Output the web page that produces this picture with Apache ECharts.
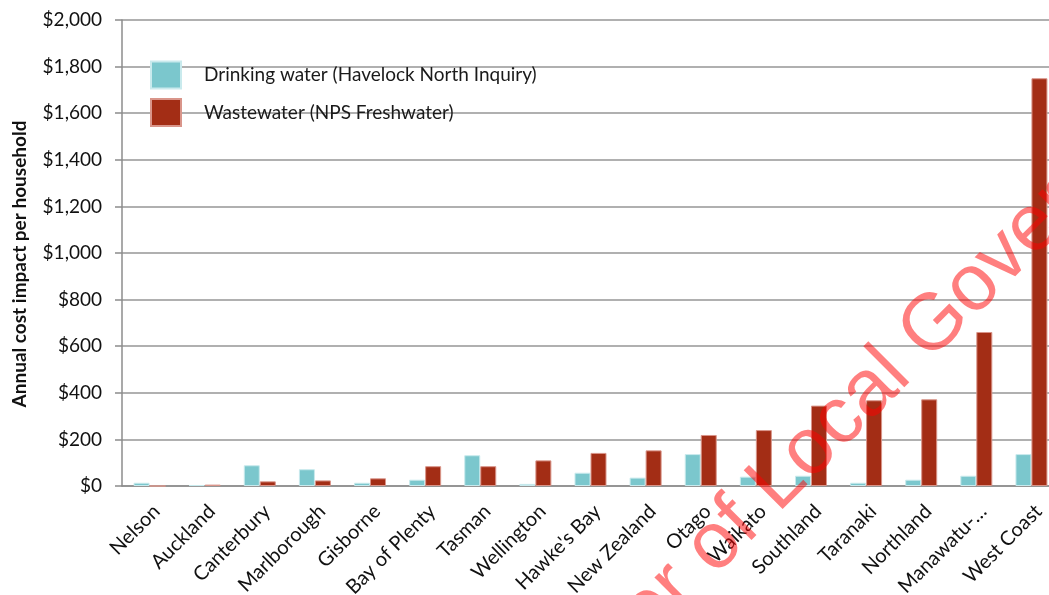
<!DOCTYPE html>
<html>
<head>
    <meta charset="utf-8">
    <script src="https://cdn.jsdelivr.net/npm/echarts@6/dist/echarts.min.js"></script>
    <style>
        html, body { margin: 0; padding: 0; background: #fff; }
        #chart { width: 1049px; height: 595px; }
    </style>
</head>
<body>
    <div id="chart"></div>
    <script>
        var regions = ['Nelson', 'Auckland', 'Canterbury', 'Marlborough', 'Gisborne', 'Bay of Plenty',
            'Tasman', 'Wellington', "Hawke's Bay", 'New Zealand', 'Otago', 'Waikato', 'Southland',
            'Taranaki', 'Northland', 'Manawatu-…', 'West Coast'];
        var drinking = [14, 4, 89, 72, 14, 27, 132, 9, 57, 36, 137, 40, 44, 14, 27, 44, 137];
        var wastewater = [0, 6, 20, 24, 33, 85, 85, 110, 142, 153, 219, 240, 345, 368, 372, 661, 1750];
        var seriesNames = ['Drinking water (Havelock North Inquiry)', 'Wastewater (NPS Freshwater)'];

        var font = 'Lato, "Liberation Sans", sans-serif';

        var chart = echarts.init(document.getElementById('chart'), null, { renderer: 'canvas' });
        var option = {
            animation: false,
            textStyle: { fontFamily: font },
            // plot runs past the right edge of the picture, as in the original crop
            grid: { left: 122, top: 20, bottom: 109, width: 937, outerBoundsMode: 'none' },
            legend: {
                orient: 'vertical',
                left: 145,
                top: 54,
                icon: 'rect',
                itemWidth: 30,
                itemHeight: 27,
                itemGap: 0,
                textStyle: { fontSize: 19, lineHeight: 23, color: '#1a1a1a', fontFamily: font },
                data: [
                    { name: seriesNames[0], textStyle: { padding: [9, 0, 0, 18] } },
                    { name: seriesNames[1], textStyle: { padding: [0, 0, 20, 18] } }
                ]
            },
            xAxis: {
                type: 'category',
                data: regions,
                axisLine: { lineStyle: { color: '#8c8c8c', width: 1.5 } },
                axisTick: { length: 7, lineStyle: { color: '#8c8c8c', width: 1.5 } },
                axisLabel: {
                    interval: 0, rotate: 45, fontSize: 20, color: '#111',
                    margin: 15, verticalAlign: 'top'
                }
            },
            yAxis: {
                type: 'value',
                min: 0,
                max: 2000,
                interval: 200,
                axisLine: { show: true, lineStyle: { color: '#8c8c8c', width: 1.5 } },
                axisTick: { show: true, length: 7, lineStyle: { color: '#8c8c8c', width: 1.5 } },
                axisLabel: {
                    fontSize: 19, color: '#111', margin: 20,
                    formatter: function (v) { return '$' + v.toLocaleString('en-US'); }
                },
                splitLine: { lineStyle: { color: '#969696', width: 1.5 } }
            },
            series: [
                {
                    name: seriesNames[0],
                    type: 'bar',
                    data: drinking,
                    barWidth: 16,
                    barGap: '0%',
                    itemStyle: { color: '#7bc7cd', borderColor: '#c9eaed', borderWidth: 1 }
                },
                {
                    name: seriesNames[1],
                    type: 'bar',
                    data: wastewater,
                    barWidth: 16,
                    barGap: '0%',
                    itemStyle: { color: '#a32d15', borderColor: '#d9958a', borderWidth: 1 }
                }
            ],
            graphic: [
                {
                    type: 'text',
                    x: 20,
                    y: 264,
                    rotation: Math.PI / 2,
                    style: {
                        text: 'Annual cost impact per household',
                        font: 'bold 19px ' + font,
                        fill: '#111',
                        align: 'center',
                        verticalAlign: 'middle'
                    }
                },
                {
                    type: 'text',
                    x: 514,
                    y: 803,
                    rotation: Math.PI / 4,
                    silent: true,
                    z: 100,
                    style: {
                        text: 'Minister of Local Government',
                        font: '80px "Liberation Sans", Arial, sans-serif',
                        fill: 'rgba(255, 0, 0, 0.5)',
                        verticalAlign: 'bottom'
                    }
                }
            ]
        };
        chart.setOption(option);
    </script>
</body>
</html>
